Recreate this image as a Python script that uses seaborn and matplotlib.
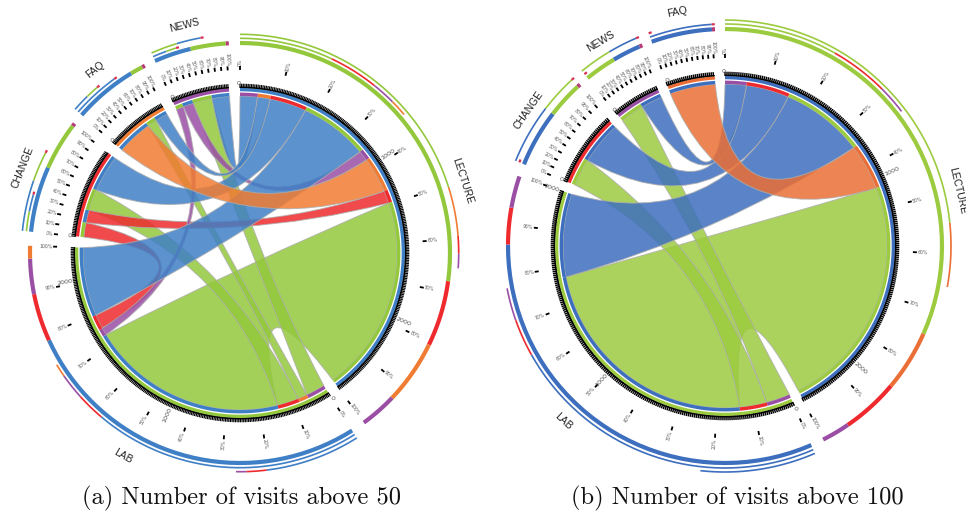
import numpy as np
import matplotlib
matplotlib.use("Agg")
import matplotlib.pyplot as plt
from matplotlib.path import Path
from matplotlib.patches import PathPatch
import seaborn as sns

sns.set_theme(style="white")
plt.rcParams['font.family'] = ['Liberation Sans', 'DejaVu Sans']

# the five pages, clockwise from the top (FAQ and NEWS swap in the second chart)
segments_a = ["LECTURE", "LAB", "CHANGE", "FAQ", "NEWS"]
segments_b = ["LECTURE", "LAB", "CHANGE", "NEWS", "FAQ"]

flow_from = ["LECTURE", "LAB", "LECTURE", "CHANGE", "LECTURE", "FAQ", "LECTURE", "NEWS",
             "LAB", "CHANGE", "LAB", "LAB", "NEWS"]
flow_to = ["LAB", "LECTURE", "CHANGE", "LECTURE", "FAQ", "LECTURE", "NEWS", "LECTURE",
           "CHANGE", "LAB", "FAQ", "NEWS", "LAB"]
# visits
visits_a = [448, 1285, 240, 82, 82, 232, 114, 68, 140, 95, 62, 125, 48]
visits_b = [450, 1275, 233, 0, 0, 247, 115, 0, 148, 0, 0, 129, 0]

captions = ["(a) Number of visits above 50", "(b) Number of visits above 100"]

names = ["LECTURE", "LAB", "CHANGE", "FAQ", "NEWS"]
colors_a = dict(zip(names, sns.color_palette(["#3f7fc6", "#93c83c", "#ee2a2e", "#f07c33", "#9a4fa5"])))
colors_b = dict(zip(names, sns.color_palette(["#3d6fbe", "#9ccb3f", "#ee2a2e", "#ea6e35", "#9a4fa5"])))

# stacking of the ribbons, by source
draw_order = ["LAB", "CHANGE", "NEWS", "LECTURE", "FAQ"]


def polar(cx, cy, r, theta):
    t = np.radians(theta)
    return cx + r * np.sin(t), cy - r * np.cos(t)


def band(ax, cx, cy, r0, r1, t0, t1, color, z=3):
    th = np.linspace(t0, t1, max(int(abs(t1 - t0) * 2), 2))
    xo, yo = polar(cx, cy, r1, th)
    xi, yi = polar(cx, cy, r0, th[::-1])
    ax.fill(np.r_[xo, xi], np.r_[yo, yi], color=color, lw=0, zorder=z)


def edge_ctrl(cx, cy, c, p, q):
    # control point sits near the centre on the middle angle
    d = (q - p + 180) % 360 - 180
    return polar(cx, cy, c, p + d / 2)


def ribbon(ax, cx, cy, r, c, a, b, color, z):
    ta = np.linspace(a[0], a[1], 30)
    tb = np.linspace(b[0], b[1], 30)
    pa = list(zip(*polar(cx, cy, r, ta)))
    pb = list(zip(*polar(cx, cy, r, tb)))
    verts = [pa[0]] + pa[1:]
    codes = [Path.MOVETO] + [Path.LINETO] * (len(pa) - 1)
    verts += [edge_ctrl(cx, cy, c, a[1], b[0]), pb[0]]
    codes += [Path.CURVE3, Path.CURVE3]
    verts += pb[1:]
    codes += [Path.LINETO] * (len(pb) - 1)
    verts += [edge_ctrl(cx, cy, c, b[1], a[0]), pa[0]]
    codes += [Path.CURVE3, Path.CURVE3]
    ax.add_patch(PathPatch(Path(verts, codes), facecolor=(*color, 0.85),
                           edgecolor=(0.68, 0.68, 0.68, 0.8), lw=0.7, zorder=z))


def draw_panel(ax, cx, cy, radius, segments, visits, colors, gap, ctrl, tr, label_r, pct_r, tooth_lw):
    flows = [(s, d, v) for s, d, v in zip(flow_from, flow_to, visits) if v > 0]
    totals = {n: sum(v for s, d, v in flows if n in (s, d)) for n in segments}
    per_deg = (360 - gap * len(segments)) / sum(totals.values())
    partner_order = segments[::-1]

    starts, spans = {}, {}
    pos = 0.0
    for n in segments:
        starts[n], spans[n] = pos, totals[n] * per_deg
        pos += spans[n] + gap

    r_ring = radius - 4
    r_inner = radius - 9
    r_rib = radius - 12
    ends = {}
    for n in segments:
        t0, t1 = starts[n], starts[n] + spans[n]
        # black comb, one tooth per 10 visits
        teeth = np.arange(0, totals[n] + 1, 10) * per_deg + t0
        xs, ys = [], []
        for t in teeth:
            xa, ya = polar(cx, cy, radius - 4, t)
            xb, yb = polar(cx, cy, radius + 0.3, t)
            xs += [xa, xb, np.nan]
            ys += [ya, yb, np.nan]
        ax.plot(xs, ys, color="black", lw=tooth_lw, solid_capstyle="butt", zorder=4)
        band(ax, cx, cy, radius - 4, radius - 2.6, t0, t1, "black", z=4)
        band(ax, cx, cy, r_ring - 3.3, r_ring, t0, t1, colors[n])

        # inner ring: outgoing then incoming, partner colours
        p = t0
        for direction in ("out", "in"):
            for other in partner_order:
                for s, d, v in flows:
                    hit = (direction == "out" and s == n and d == other) or \
                          (direction == "in" and d == n and s == other)
                    if hit:
                        w = v * per_deg
                        band(ax, cx, cy, r_rib, r_inner + 0.4, p, p + w, colors[other])
                        ends[(s, d, direction)] = (p, p + w)
                        p += w

        # tick numbers every 1000 visits
        for val in range(0, int(totals[n]) + 1, 1000):
            t = t0 + val * per_deg
            rot, ha = (90 - t, "left") if t < 180 else (270 - t, "right")
            x, y = polar(cx, cy, radius + 0.5, t)
            ax.text(x, y, str(val), fontsize=4.6, color="#555555", rotation=rot, ha=ha, va="center",
                    rotation_mode="anchor", family="DejaVu Sans", zorder=5)

        # percent ticks
        for k in range(11):
            t = t0 + spans[n] * k / 10
            xa, ya = polar(cx, cy, pct_r, t)
            xb, yb = polar(cx, cy, pct_r + 4, t)
            ax.plot([xa, xb], [ya, yb], color="black", lw=1.3, solid_capstyle="butt", zorder=4)
            rot, ha = (90 - t, "left") if t < 180 else (270 - t, "right")
            x, y = polar(cx, cy, pct_r + 4.5, t)
            ax.text(x, y, f"{k * 10}%", fontsize=3.3, color="#555555", rotation=rot, ha=ha, va="center",
                    rotation_mode="anchor", family="DejaVu Sans")

        # outer tracks: all visits, outgoing, incoming
        tracks = [
            ([(d if s == n else s, v) for s, d, v in flows if n in (s, d)], tr[0], 3.0),
            ([(d, v) for s, d, v in flows if s == n], tr[1], 1.2),
            ([(s, v) for s, d, v in flows if d == n], tr[2], 1.2),
        ]
        for parts, r, lw in tracks:
            merged = {}
            for other, v in parts:
                merged[other] = merged.get(other, 0) + v
            p = t0
            for other, v in sorted(merged.items(), key=lambda kv: -kv[1]):
                th = np.linspace(p, p + v * per_deg, 40)
                x, y = polar(cx, cy, r, th)
                ax.plot(x, y, color=colors[other], lw=lw, solid_capstyle="butt", zorder=3)
                p += v * per_deg
            if n in ("CHANGE", "FAQ", "NEWS"):
                th = np.linspace(p, p + 0.8, 4)
                x, y = polar(cx, cy, r, th)
                tip = "#b83a78" if lw > 2 else "#d9304f"
                ax.plot(x, y, color=tip, lw=max(lw, 1.6), solid_capstyle="butt", zorder=3)

        # segment name
        mid = t0 + spans[n] / 2
        rot = -mid + 180 if 90 < mid < 270 else -mid
        x, y = polar(cx, cy, label_r, mid)
        ax.text(x, y, n, fontsize=7.4, color="#222222", rotation=rot, ha="center", va="center",
                rotation_mode="anchor")

    # ribbons: stacked by source, biggest first inside a source
    ordered = sorted(flows, key=lambda f: (draw_order.index(f[0]), -f[2]))
    for i, (s, d, v) in enumerate(ordered):
        a = ends[(s, d, "out")]
        b = ends[(s, d, "in")]
        ribbon(ax, cx, cy, r_rib, ctrl, a, b, colors[s], 2 + i * 0.01)


fig = plt.figure(figsize=(9.66, 5.14), dpi=100)
ax = fig.add_axes([0, 0, 1, 1])
ax.set_xlim(0, 966)
ax.set_ylim(514, 0)
ax.axis("off")

draw_panel(ax, 240, 253, 169, segments_a, visits_a, colors_a, 3.85, 12, (210, 214.7, 218.7), 234, 183, 0.85)
draw_panel(ax, 725, 246, 174, segments_b, visits_b, colors_b, 3.44, 13, (217, 222, 226), 239, 188, 1.05)

for text, x in zip(captions, [241, 737]):
    ax.text(x, 498, text, fontsize=17.6, family=["cmr10", "Liberation Serif"], color="#111111",
            ha="center", va="center")

fig.savefig("out.png", dpi=100)
